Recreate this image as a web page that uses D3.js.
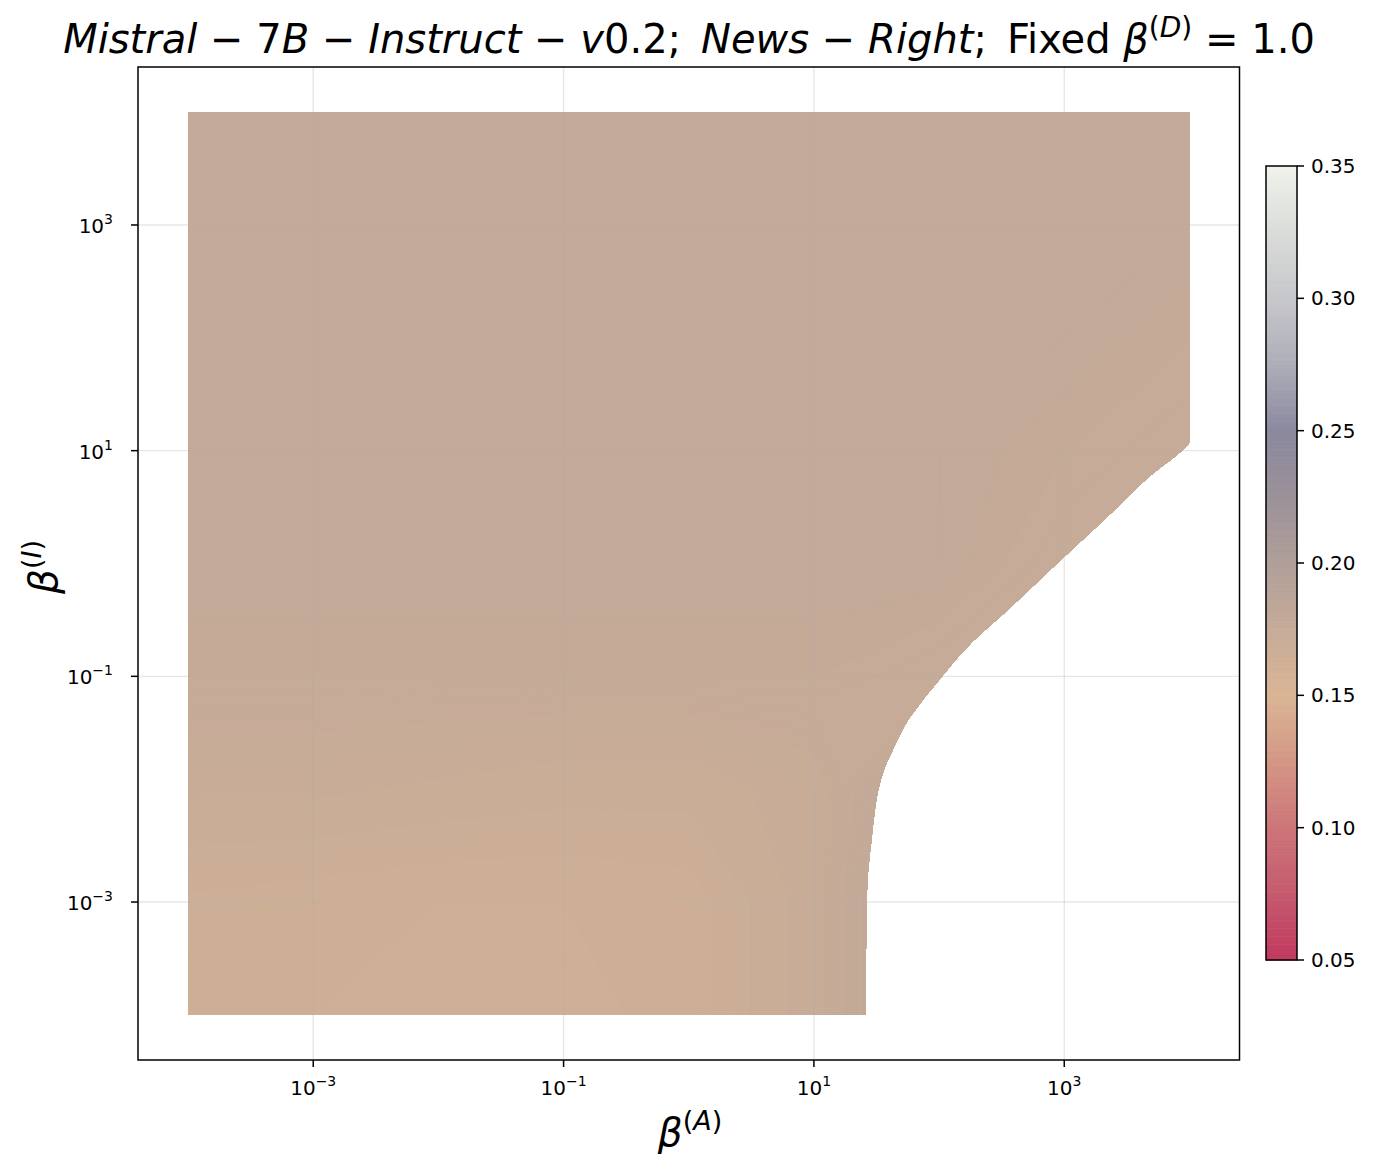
<!DOCTYPE html>
<html>
<head>
<meta charset="utf-8">
<script src="https://cdn.jsdelivr.net/npm/d3@7"></script>
<style>
  body { margin: 0; background: #fff; }
  svg text { font-family: "DejaVu Sans", sans-serif; }
</style>
</head>
<body>
<div id="chart"></div>
<script>
// ---- data (exponents are log10 of beta) ----
var gridLogA = [-4, -3, -2, -1, 0, 1, 2, 3, 4];          // columns, beta^(A)
var gridLogI = [4, 3, 2, 1, 0, -1, -2, -3, -4];          // rows, beta^(I), top to bottom
var gridValues = [
  [0.177, 0.177, 0.177, 0.177, 0.177, 0.177, 0.177, 0.177, 0.177],
  [0.177, 0.177, 0.177, 0.177, 0.177, 0.177, 0.177, 0.177, 0.177],
  [0.177, 0.177, 0.177, 0.177, 0.177, 0.177, 0.177, 0.177, 0.176],
  [0.177, 0.177, 0.177, 0.177, 0.177, 0.177, 0.177, 0.176, 0.175],
  [0.177, 0.177, 0.177, 0.177, 0.177, 0.177, 0.177, 0.175, 0.175],
  [0.176, 0.176, 0.176, 0.176, 0.176, 0.176, 0.175, 0.175, 0.175],
  [0.172, 0.172, 0.171, 0.170, 0.170, 0.173, 0.182, 0.182, 0.182],
  [0.166, 0.165, 0.164, 0.164, 0.165, 0.173, 0.186, 0.186, 0.186],
  [0.165, 0.164, 0.163, 0.163, 0.165, 0.173, 0.186, 0.186, 0.186]
];

// right-hand edge of the covered region, from top right down to the bottom
var edgeLogA = [4.00, 3.93, 3.66, 3.34, 3.02, 2.78, 2.54, 2.27, 2.09, 1.98, 1.85, 1.74, 1.63, 1.55, 1.50, 1.46, 1.43, 1.42, 1.414];
var edgeLogI = [1.07, 0.99, 0.75, 0.41, 0.08, -0.17, -0.42, -0.69, -0.91, -1.06, -1.24, -1.41, -1.65, -1.86, -2.09, -2.45, -2.77, -3.13, -4.00];

// colour map
var cmapStops  = [0.05, 0.075, 0.10, 0.125, 0.15, 0.175, 0.20, 0.225, 0.25, 0.275, 0.30, 0.325, 0.35];
var cmapColors = ["#c0395f", "#c55a6d", "#cc7579", "#d49685", "#d9b594", "#c6ab98", "#b09f99", "#9b9199",
                  "#8b899e", "#adadb8", "#c6c7cb", "#dadcd9", "#eff3ea"];
var cbarTicks = [0.05, 0.10, 0.15, 0.20, 0.25, 0.30, 0.35];

var xTicks = [1e-3, 1e-1, 1e1, 1e3];
var yTicks = [1e-3, 1e-1, 1e1, 1e3];

// ---- layout ----
var W = 1381, H = 1173;
var plot = { left: 138, right: 1239.5, top: 67, bottom: 1060 };
var cbar = { left: 1266, right: 1297, top: 166, bottom: 960 };
var tickLen = 7, tickFont = 20, supFont = 14;

var svg = d3.select("#chart").append("svg")
    .attr("width", W).attr("height", H);

var x = d3.scaleLog().domain([Math.pow(10, -4.4), Math.pow(10, 4.4)]).range([plot.left, plot.right]);
var y = d3.scaleLog().domain([Math.pow(10, -4.4), Math.pow(10, 4.4)]).range([plot.bottom, plot.top]);

var color = d3.scaleLinear().domain(cmapStops).range(cmapColors).interpolate(d3.interpolateRgb).clamp(true);

// region outline: straight sides, smooth right-hand edge
var logLine = function (curve) {
    return d3.line().curve(curve)
        .x(function (d) { return x(Math.pow(10, d[0])); })
        .y(function (d) { return y(Math.pow(10, d[1])); });
};
var corners = [[1.414, -4], [-4, -4], [-4, 4], [4, 4]];
var edge = edgeLogA.map(function (a, i) { return [a, edgeLogI[i]]; });
var clipD = logLine(d3.curveLinear)(corners) + "L" + logLine(d3.curveCatmullRom)(edge).slice(1) + "Z";

svg.append("clipPath").attr("id", "region-clip")
    .append("path").attr("d", clipD);

// filled contours
var nx = gridLogA.length, ny = gridLogI.length;
var flat = [];
gridValues.forEach(function (row) { row.forEach(function (v) { flat.push(v); }); });
var thresholds = [0.05].concat(d3.range(0.1505, 0.2, 0.0005));
var contours = d3.contours().size([nx, ny]).thresholds(thresholds)(flat);

var stepA = gridLogA[1] - gridLogA[0], stepI = gridLogI[1] - gridLogI[0];
var proj = d3.geoTransform({
    point: function (gx, gy) {
        var la = gridLogA[0] + (gx - 0.5) * stepA;
        var li = gridLogI[0] + (gy - 0.5) * stepI;
        this.stream.point(x(Math.pow(10, la)), y(Math.pow(10, li)));
    }
});
var geo = d3.geoPath(proj);

var fillG = svg.append("g").attr("clip-path", "url(#region-clip)");
fillG.selectAll("path")
    .data(contours.filter(function (c) { return c.coordinates.length > 0; }))
    .enter().append("path")
        .attr("d", geo)
        .attr("fill", function (d) { return color(d.value < 0.15 ? 0.15 : d.value + 0.00025); })
        .attr("stroke", function (d) { return color(d.value < 0.15 ? 0.15 : d.value + 0.00025); })
        .attr("stroke-width", 0.6);

// grid (drawn above the fill)
var gridG = svg.append("g").attr("stroke", "#b0b0b0").attr("stroke-opacity", 0.3).attr("stroke-width", 1.4);
gridG.selectAll("line.gx").data(xTicks).enter().append("line")
    .attr("x1", function (d) { return x(d); })
    .attr("x2", function (d) { return x(d); })
    .attr("y1", plot.top).attr("y2", plot.bottom);
gridG.selectAll("line.gy").data(yTicks).enter().append("line")
    .attr("y1", function (d) { return y(d); })
    .attr("y2", function (d) { return y(d); })
    .attr("x1", plot.left).attr("x2", plot.right);

// frame
svg.append("rect")
    .attr("x", plot.left).attr("y", plot.top)
    .attr("width", plot.right - plot.left).attr("height", plot.bottom - plot.top)
    .attr("fill", "none").attr("stroke", "#000").attr("stroke-width", 1.5);

function powLabel(sel, d) {
    var e = Math.round(Math.log10(d));
    sel.append("tspan").text("10");
    sel.append("tspan").attr("dy", -9).attr("font-size", supFont)
        .text(e < 0 ? "\u2212" + Math.abs(e) : String(e));
}

// x ticks
xTicks.forEach(function (d) {
    var px = x(d);
    svg.append("line").attr("x1", px).attr("x2", px)
        .attr("y1", plot.bottom).attr("y2", plot.bottom + tickLen)
        .attr("stroke", "#000").attr("stroke-width", 1.5);
    var t = svg.append("text").attr("x", px).attr("y", plot.bottom + 35)
        .attr("text-anchor", "middle").attr("font-size", tickFont).attr("fill", "#000");
    powLabel(t, d);
});

// y ticks
yTicks.forEach(function (d) {
    var py = y(d);
    svg.append("line").attr("x1", plot.left - tickLen).attr("x2", plot.left)
        .attr("y1", py).attr("y2", py)
        .attr("stroke", "#000").attr("stroke-width", 1.5);
    var t = svg.append("text").attr("x", plot.left - 25).attr("y", py + 8)
        .attr("text-anchor", "end").attr("font-size", tickFont).attr("fill", "#000");
    powLabel(t, d);
});

// axis labels
var xl = svg.append("text").attr("x", 690).attr("y", 1146)
    .attr("text-anchor", "middle").attr("font-size", 39).attr("fill", "#000");
xl.append("tspan").attr("font-style", "italic").text("\u03b2");
xl.append("tspan").attr("dy", -16).attr("font-size", 27).text("(");
xl.append("tspan").attr("font-size", 27).attr("font-style", "italic").text("A");
xl.append("tspan").attr("font-size", 27).text(")");

var yl = svg.append("text").attr("transform", "translate(57,567) rotate(-90)")
    .attr("text-anchor", "middle").attr("font-size", 39).attr("fill", "#000");
yl.append("tspan").attr("font-style", "italic").text("\u03b2");
yl.append("tspan").attr("dy", -16).attr("font-size", 27).text("(");
yl.append("tspan").attr("font-size", 27).attr("font-style", "italic").text("I");
yl.append("tspan").attr("font-size", 27).text(")");

// title
var titleParts = [
    ["Mistral", "i"], [" \u2212 ", "n"], ["7", "n"], ["B", "i"], [" \u2212 ", "n"], ["Instruct", "i"],
    [" \u2212 ", "n"], ["v", "i"], ["0.2;", "n"], ["\u2002", "n"], ["News", "i"], [" \u2212 ", "n"],
    ["Right", "i"], [";", "n"], ["\u2002Fixed ", "n"], ["\u03b2", "i"], ["(", "sup"], ["D", "supi"],
    [")", "sup"], [" = 1.0", "after"]
];
var title = svg.append("text").attr("x", 689).attr("y", 53)
    .attr("text-anchor", "middle").attr("font-size", 40).attr("fill", "#000");
titleParts.forEach(function (p) {
    var ts = title.append("tspan").text(p[0]);
    if (p[1] === "i") ts.attr("font-style", "italic");
    if (p[1] === "sup") ts.attr("font-size", 28).attr("dy", p[0] === "(" ? -16 : 0);
    if (p[1] === "supi") ts.attr("font-size", 28).attr("font-style", "italic");
    if (p[1] === "after") ts.attr("dy", 16);
});

// colour bar
var cb = d3.scaleLinear().domain([0.05, 0.35]).range([cbar.bottom, cbar.top]);
var cbSteps = d3.range(0, 300);
svg.append("g").selectAll("rect").data(cbSteps).enter().append("rect")
    .attr("x", cbar.left)
    .attr("width", cbar.right - cbar.left)
    .attr("y", function (i) { return cb(0.05 + (i + 1) * 0.001); })
    .attr("height", Math.abs(cb(0.051) - cb(0.05)) + 0.6)
    .attr("fill", function (i) { return color(0.05 + (i + 0.5) * 0.001); });
svg.append("rect")
    .attr("x", cbar.left).attr("y", cbar.top)
    .attr("width", cbar.right - cbar.left).attr("height", cbar.bottom - cbar.top)
    .attr("fill", "none").attr("stroke", "#000").attr("stroke-width", 1.5);
cbarTicks.forEach(function (v) {
    var py = cb(v);
    svg.append("line").attr("x1", cbar.right).attr("x2", cbar.right + tickLen)
        .attr("y1", py).attr("y2", py).attr("stroke", "#000").attr("stroke-width", 1.5);
    svg.append("text").attr("x", cbar.right + 14).attr("y", py + 7)
        .attr("font-size", tickFont).attr("fill", "#000").text(v.toFixed(2));
});
</script>
</body>
</html>
